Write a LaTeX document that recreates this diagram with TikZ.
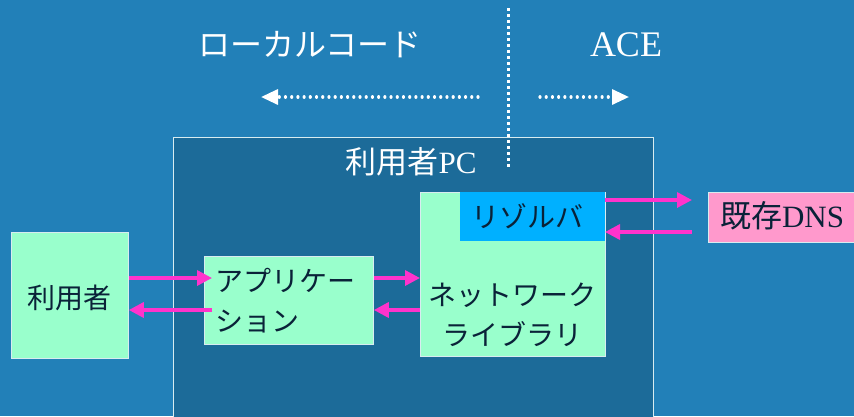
\documentclass[tikz,border=0pt]{standalone}
\usepackage{fontspec}
\setmainfont{Liberation Serif}
\newfontfamily\jp{Noto Sans CJK JP}
\usetikzlibrary{arrows.meta}
\definecolor{bgout}{HTML}{2280B8}
\definecolor{bgin}{HTML}{1C6B99}
\definecolor{mint}{HTML}{99FFCC}
\definecolor{resc}{HTML}{00B0FF}
\definecolor{pinkc}{HTML}{FF99CC}
\definecolor{mag}{HTML}{FF33CC}
\definecolor{ink}{HTML}{0A2238}
\definecolor{edge}{HTML}{D8ECF0}
\tikzset{
  box/.style={draw=edge, line width=0.8pt, inner sep=0pt, anchor=north west, text=ink},
  jptext/.style={font=\jp\fontsize{28}{40}\selectfont, text=ink, inner sep=0pt},
  marr/.style={draw=mag, line width=3.4pt, -{Triangle[length=15pt,width=15pt]}},
  dotarr/.style={draw=white, line width=3.2pt, line cap=round, dash pattern=on 0.01pt off 6.2pt,
     -{Triangle[length=17pt,width=15pt,line cap=butt]}},
}
\begin{document}
\begin{tikzpicture}[x=1pt,y=-1pt]
\useasboundingbox (0,0) rectangle (854,416);
\fill[bgout] (0,0) rectangle (854,416);
% inner PC box
\node[box, fill=bgin, minimum width=480pt, minimum height=290pt] (pc) at (173,137) {};
% vertical divider
\coordinate (vtop) at (508,8);
\coordinate (vbot) at (508,167);
\draw[white, line width=3pt, dash pattern=on 3pt off 3pt] (vtop) -- (vbot);
% titles
\node[font=\jp\fontsize{32}{36}\selectfont, text=white, inner sep=0pt] (local) at (310,45) {ローカルコード};
\node[font=\fontsize{36}{40}\selectfont, text=white, inner sep=0pt] (ace) at (626,45) {ACE};
\coordinate (la0) at (478,97);
\coordinate (la1) at (261,97);
\coordinate (ra0) at (540,97);
\coordinate (ra1) at (629,97);
\draw[dotarr] (la0) -- (la1);
\draw[dotarr] (ra0) -- (ra1);
\node[font=\fontsize{31}{34}\selectfont, text=white, inner sep=0pt] (pclabel) at (411,162) {{\jp 利用者}PC};
% boxes
\node[box, fill=mint, minimum width=117pt, minimum height=126pt, jptext] (user) at (11,232) {};
\node[jptext] (usertxt) at (69.5,298) {利用者};
\node[box, fill=mint, minimum width=169pt, minimum height=88pt] (app) at (204,256) {};
\node[jptext, anchor=west, align=left] (apptxt) at (215,301) {アプリケー\\ション};
\node[box, fill=mint, minimum width=185pt, minimum height=164pt] (net) at (420,192) {};
\node[jptext, align=center] (nettxt) at (512.5,315) {ネットワーク\\ライブラリ};
\fill[resc] (460,192) rectangle (605,241);
\node[jptext, inner sep=0pt] (res) at (527,216) {リゾルバ};
\coordinate (resE) at (605,216);
\node[box, fill=pinkc, minimum width=160pt, minimum height=50pt] (dns) at (708,192) {};
\node[font=\fontsize{31}{34}\selectfont, text=ink, inner sep=0pt] (dnstxt) at (782,216) {{\jp 既存}DNS};
% connectors
\draw[marr] (user.east |- 0,278) -- ([xshift=8pt]app.west |- 0,278);
\draw[marr] ([xshift=8pt]app.west |- 0,310) -- (user.east |- 0,310);
\draw[marr] (app.east |- 0,278) -- (net.west |- 0,278);
\draw[marr] (net.west |- 0,310) -- (app.east |- 0,310);
\draw[marr] (resE |- 0,200) -- ([xshift=-16pt]dns.west |- 0,200);
\draw[marr] ([xshift=-16pt]dns.west |- 0,232) -- (resE |- 0,232);
\end{tikzpicture}
\end{document}
